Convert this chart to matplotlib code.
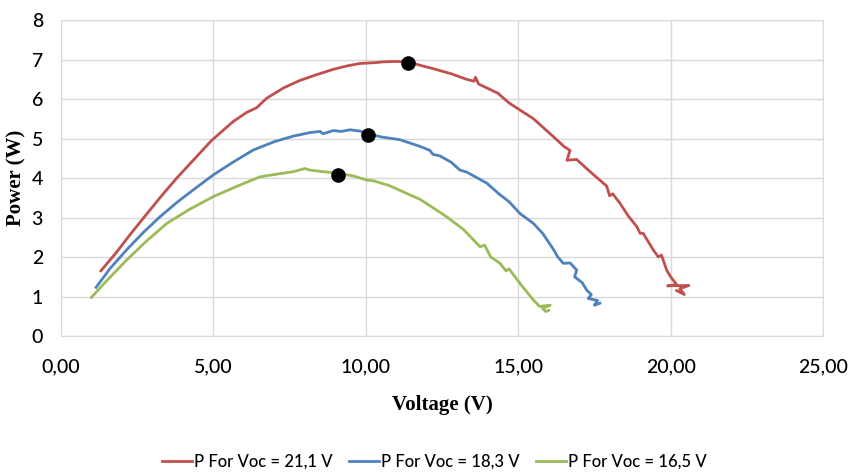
import numpy as np
import matplotlib.pyplot as plt

# P-V curves
red_v = [1.31, 1.8, 2.3, 2.72, 3.3, 3.8, 4.4, 4.94, 5.65, 6.09, 6.42, 6.75, 7.3, 7.84, 8.4, 8.93,
         9.4, 9.81, 10.3, 10.57, 11.0, 11.39, 11.8, 12.2, 12.8, 13.3, 13.55, 13.6, 13.7, 14.35,
         14.4, 14.7, 15.06, 15.5, 16.15, 16.5, 16.7, 16.6, 16.92, 17.3, 17.79, 17.9, 18.0, 18.1,
         18.34, 18.6, 18.89, 19.0, 19.1, 19.43, 19.6, 19.7, 19.87, 20.0, 20.2, 19.9, 20.6, 20.3,
         20.45, 20.2]
red_p = [1.65, 2.1, 2.6, 3.0, 3.55, 4.0, 4.5, 4.95, 5.43, 5.66, 5.78, 6.02, 6.28, 6.47, 6.62, 6.75,
         6.84, 6.9, 6.92, 6.94, 6.95, 6.94, 6.85, 6.77, 6.64, 6.5, 6.45, 6.55, 6.38, 6.14,
         6.1, 5.9, 5.72, 5.5, 5.05, 4.8, 4.7, 4.45, 4.47, 4.2, 3.87, 3.8, 3.55, 3.6,
         3.36, 3.05, 2.77, 2.6, 2.6, 2.18, 2.0, 2.05, 1.67, 1.5, 1.3, 1.27, 1.28, 1.2,
         1.05, 1.15]

blue_v = [1.15, 1.6, 2.15, 2.7, 3.25, 3.8, 4.34, 5.0, 5.6, 6.31, 7.0, 7.62, 8.17, 8.5, 8.6, 8.93,
          9.2, 9.48, 9.8, 10.08, 10.5, 11.12, 11.78, 12.1, 12.2, 12.43, 12.8, 13.09, 13.31, 13.97,
          14.35, 14.7, 15.06, 15.5, 15.8, 16.15, 16.3, 16.48, 16.7, 16.92, 16.85, 17.1, 17.25,
          17.4, 17.3, 17.6, 17.5, 17.68]
blue_p = [1.23, 1.7, 2.18, 2.62, 3.02, 3.38, 3.7, 4.08, 4.38, 4.71, 4.92, 5.06, 5.15, 5.18, 5.12, 5.2,
          5.18, 5.22, 5.19, 5.12, 5.04, 4.97, 4.8, 4.7, 4.6, 4.56, 4.4, 4.2, 4.15, 3.87,
          3.61, 3.4, 3.1, 2.85, 2.6, 2.2, 2.0, 1.84, 1.85, 1.67, 1.5, 1.35, 1.16,
          1.05, 0.95, 0.9, 0.78, 0.83]

green_v = [1.0, 1.5, 2.15, 2.8, 3.47, 4.2, 5.0, 5.8, 6.53, 7.1, 7.62, 8.0, 8.17, 8.6, 9.1, 9.6,
           10.03, 10.25, 10.8, 11.34, 11.78, 12.2, 12.65, 13.2, 13.75, 13.9, 14.1, 14.4, 14.6,
           14.7, 15.06, 15.3, 15.5, 15.7, 16.05, 15.8, 15.9, 16.0]
green_p = [0.98, 1.4, 1.92, 2.4, 2.85, 3.2, 3.53, 3.8, 4.03, 4.1, 4.16, 4.24, 4.2, 4.16, 4.12, 4.05,
           3.95, 3.93, 3.8, 3.61, 3.46, 3.25, 3.02, 2.7, 2.26, 2.3, 2.0, 1.84, 1.65,
           1.7, 1.33, 1.1, 0.91, 0.75, 0.78, 0.7, 0.62, 0.65]

# maximum power points (black dots)
mpp_v = [11.39, 10.08, 9.1]
mpp_p = [6.92, 5.1, 4.08]

labels = ["P For Voc = 21,1 V", "P For Voc = 18,3 V", "P For Voc = 16,5 V"]
colors = ["#C0504D", "#4F81BD", "#9BBB59"]

x_ticks = [0, 5, 10, 15, 20, 25]
y_ticks = [0, 1, 2, 3, 4, 5, 6, 7, 8]

tick_font = "Lato"

fig = plt.figure(figsize=(8.6, 4.74), dpi=100)
ax = fig.add_axes([0.0709, 0.2911, 0.8861, 0.6667])

for v, p, lab, c in zip([red_v, blue_v, green_v], [red_p, blue_p, green_p], labels, colors):
    ax.plot(v, p, color=c, linewidth=2.0, label=lab, solid_joinstyle="round")

ax.scatter(mpp_v, mpp_p, s=90, color="black", zorder=5)

ax.set_xlim(0, 25)
ax.set_ylim(0, 8)
ax.set_xticks(x_ticks)
ax.set_xticklabels([f"{t:.2f}".replace(".", ",") for t in x_ticks])
ax.set_yticks(y_ticks)
ax.grid(True, color="#D9D9D9", linewidth=1.0)
ax.set_axisbelow(True)
for s in ax.spines.values():
    s.set_color("#D9D9D9")
ax.tick_params(axis="both", length=0, labelsize=14)
ax.tick_params(axis="x", pad=16)
ax.tick_params(axis="y", pad=13)
for t in ax.get_xticklabels() + ax.get_yticklabels():
    t.set_fontfamily(tick_font)
    t.set_fontweight("medium")

ax.set_xlabel("Voltage (V)", fontfamily="Liberation Serif", fontweight="bold", fontsize=15)
ax.set_ylabel("Power (W)", fontfamily="Liberation Serif", fontweight="bold", fontsize=15)
ax.xaxis.set_label_coords(0.5, -0.187)
ax.yaxis.set_label_coords(-0.045, 0.5)

fig.legend(loc="center", bbox_to_anchor=(0.505, 1 - 462 / 474), ncol=3, frameon=False,
           prop={"family": tick_font, "size": 12, "weight": "medium"}, handlelength=1.8,
           handletextpad=0.1, columnspacing=1.0)

fig.savefig("out.png", dpi=100)
